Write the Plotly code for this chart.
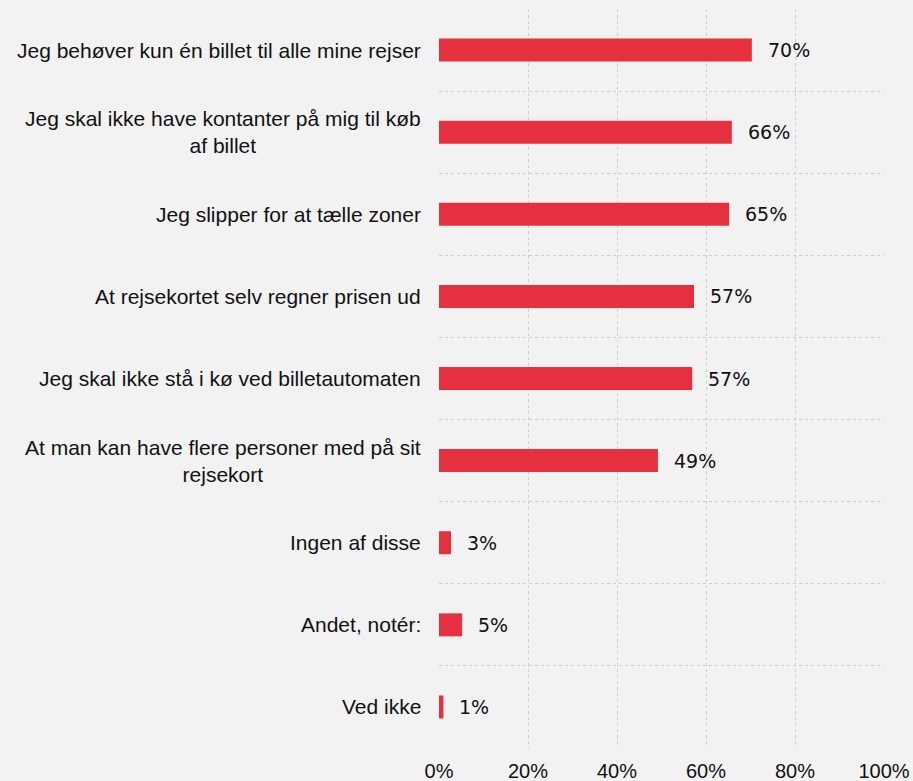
import plotly.graph_objects as go

categories = [
    "Jeg behøver kun én billet til alle mine rejser",
    "Jeg skal ikke have kontanter på mig til køb<br>af billet",
    "Jeg slipper for at tælle zoner",
    "At rejsekortet selv regner prisen ud",
    "Jeg skal ikke stå i kø ved billetautomaten",
    "At man kan have flere personer med på sit<br>rejsekort",
    "Ingen af disse",
    "Andet, notér:",
    "Ved ikke",
]
values = [70.3, 65.8, 65.2, 57.3, 56.9, 49.2, 2.7, 5.2, 1.0]
x_ticks = [0, 20, 40, 60, 80, 100]

positions = list(range(len(categories)))

BG = "#f2f2f2"
GRID = "#cdcdcd"
BAR = "#e4303f"

fig = go.Figure()
fig.add_trace(go.Bar(
    x=values, y=positions, orientation="h",
    marker=dict(color=BAR, line=dict(width=0)),
    width=0.28, hoverinfo="skip",
))

annotations = []
for p, c in zip(positions, categories):
    annotations.append(dict(
        x=0, xref="paper", y=p, yref="y", text=c, showarrow=False,
        xanchor="right", yanchor="middle", align="center", xshift=-16,
        font=dict(family="Liberation Sans, Arial", size=21, color="#111111"),
    ))
for p, v in zip(positions, values):
    annotations.append(dict(
        x=v, xref="x", y=p, yref="y", text=f"{round(v)}%", showarrow=False,
        xanchor="left", yanchor="middle", xshift=14,
        font=dict(family="DejaVu Sans", size=19, color="#111111"),
    ))

fig.update_layout(
    width=913, height=781,
    paper_bgcolor=BG, plot_bgcolor=BG,
    margin=dict(l=439, r=29, t=9, b=33, autoexpand=False),
    showlegend=False,
    annotations=annotations,
    xaxis=dict(
        range=[0, 100], tickvals=x_ticks,
        ticktext=[f"{t}%" for t in x_ticks],
        showgrid=True, gridcolor=GRID, griddash="dot", gridwidth=1,
        zeroline=False, showline=False, ticks="",
        ticklabelstandoff=9, automargin=False,
        tickfont=dict(family="Liberation Sans, Arial", size=20, color="#111111"),
        fixedrange=True,
    ),
    yaxis=dict(
        range=[len(categories) - 0.5, -0.5], automargin=False,
        showticklabels=False, showgrid=False, zeroline=False, ticks="",
        minor=dict(tick0=0.5, dtick=1, showgrid=True, gridcolor=GRID,
                   griddash="dot", gridwidth=1),
        fixedrange=True,
    ),
)

fig.write_html("out.html", config={"displayModeBar": False},
               post_script="document.body.style.margin='0';")
